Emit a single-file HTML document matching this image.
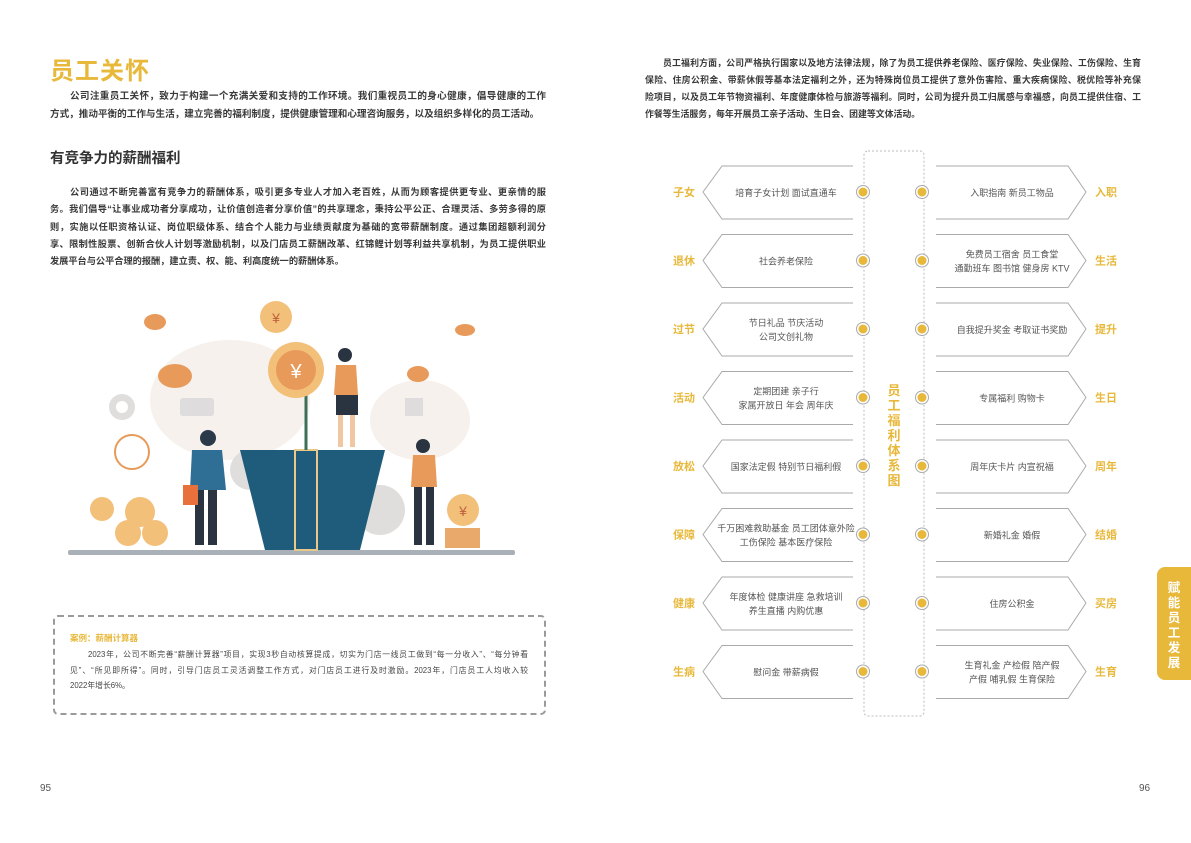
<!DOCTYPE html>
<html><head><meta charset="utf-8"><style>
*{margin:0;padding:0;box-sizing:border-box}
body{width:1191px;height:843px;background:#fff;position:relative;overflow:hidden;font-family:"Liberation Sans","Noto Sans CJK SC",sans-serif;color:#333}
.a{position:absolute}
.p div{white-space:nowrap;text-align:justify;text-align-last:justify}
.p div.last{text-align-last:left}
.p{font-weight:bold;color:#3a3a3a}
</style></head><body>
<div class="a" style="left:50px;top:51px;font-size:24px;font-weight:bold;color:#e8b83a;letter-spacing:1px">员工关怀</div>
<div class="a p" style="left:50px;top:88px;width:496px;line-height:18px;font-size:9.6px">
<div style="padding-left:20px">公司注重员工关怀，致力于构建一个充满关爱和支持的工作环境。我们重视员工的身心健康，倡导健康的工作</div>
<div class="last">方式，推动平衡的工作与生活，建立完善的福利制度，提供健康管理和心理咨询服务，以及组织多样化的员工活动。</div>
</div>
<div class="a" style="left:50px;top:147px;font-size:14.5px;font-weight:bold;color:#333">有竞争力的薪酬福利</div>
<div class="a p" style="left:50px;top:184px;width:496px;line-height:17.3px;font-size:9.2px">
<div style="padding-left:20px">公司通过不断完善富有竞争力的薪酬体系，吸引更多专业人才加入老百姓，从而为顾客提供更专业、更亲情的服</div>
<div>务。我们倡导“让事业成功者分享成功，让价值创造者分享价值”的共享理念，秉持公平公正、合理灵活、多劳多得的原</div>
<div>则，实施以任职资格认证、岗位职级体系、结合个人能力与业绩贡献度为基础的宽带薪酬制度。通过集团超额利润分</div>
<div>享、限制性股票、创新合伙人计划等激励机制，以及门店员工薪酬改革、红锦鲤计划等利益共享机制，为员工提供职业</div>
<div class="last">发展平台与公平合理的报酬，建立责、权、能、利高度统一的薪酬体系。</div>
</div>

<svg class="a" style="left:60px;top:290px" width="470" height="275" viewBox="60 290 470 275">
<ellipse cx="230" cy="400" rx="80" ry="60" fill="#f6f1ec"/>
<ellipse cx="420" cy="420" rx="50" ry="40" fill="#f6f1ec"/>
<rect x="68" y="550" width="447" height="5" rx="2" fill="#a9b0b8"/>
<g fill="#e0dedc"><circle cx="122" cy="407" r="13"/><circle cx="380" cy="510" r="25"/><circle cx="250" cy="470" r="20"/></g>
<circle cx="122" cy="407" r="6" fill="#fff"/>
<path d="M240 450 L385 450 L360 550 L265 550 Z" fill="#1f5b7a"/>
<rect x="295" y="450" width="22" height="100" fill="none" stroke="#e8c98a" stroke-width="2"/>
<line x1="306" y1="450" x2="306" y2="370" stroke="#3c6e58" stroke-width="3"/>
<circle cx="296" cy="370" r="28" fill="#f3c07a"/><circle cx="296" cy="370" r="20" fill="#e89a5a"/>
<text x="296" y="378" font-size="20" fill="#fff" text-anchor="middle" font-family="Liberation Sans">¥</text>
<circle cx="276" cy="317" r="16" fill="#f3c07a"/><text x="276" y="323" font-size="14" fill="#c0603a" text-anchor="middle">¥</text>
<circle cx="463" cy="510" r="16" fill="#f3c07a"/><text x="463" y="516" font-size="14" fill="#c0603a" text-anchor="middle">¥</text>
<circle cx="102" cy="509" r="12" fill="#f3c07a"/><circle cx="140" cy="512" r="15" fill="#f3c07a"/><circle cx="128" cy="533" r="13" fill="#f3c07a"/><circle cx="155" cy="533" r="13" fill="#f3c07a"/>
<ellipse cx="175" cy="376" rx="17" ry="12" fill="#e89a5a"/><ellipse cx="155" cy="322" rx="11" ry="8" fill="#e89a5a"/><ellipse cx="418" cy="374" rx="11" ry="8" fill="#e89a5a"/><ellipse cx="465" cy="330" rx="10" ry="6" fill="#e89a5a"/>
<rect x="445" y="528" width="35" height="20" fill="#e8a96a"/>
<circle cx="132" cy="452" r="17" fill="#fff" stroke="#e89a5a" stroke-width="2"/>
<rect x="180" y="398" width="34" height="18" rx="3" fill="#dedcdc"/>
<rect x="405" y="398" width="18" height="18" fill="#dedcdc"/>
<circle cx="208" cy="438" r="8" fill="#2a3a4a"/>
<path d="M192 450 L222 450 L226 490 L190 490 Z" fill="#2f6f95"/>
<rect x="195" y="490" width="9" height="55" fill="#2a3440"/><rect x="208" y="490" width="9" height="55" fill="#2a3440"/>
<rect x="183" y="485" width="15" height="20" fill="#e8703a"/>
<circle cx="345" cy="355" r="7" fill="#2a3440"/>
<path d="M336 365 L356 365 L358 395 L334 395 Z" fill="#e89a5a"/>
<rect x="336" y="395" width="22" height="20" fill="#2a3440"/>
<rect x="338" y="415" width="5" height="32" fill="#f0c7a0"/><rect x="350" y="415" width="5" height="32" fill="#f0c7a0"/>
<circle cx="423" cy="446" r="7" fill="#2a3440"/>
<path d="M413 455 L435 455 L437 487 L411 487 Z" fill="#e89a5a"/>
<rect x="414" y="487" width="8" height="58" fill="#2a3440"/><rect x="426" y="487" width="8" height="58" fill="#2a3440"/>
</svg>

<div class="a" style="left:53px;top:615px;width:493px;height:100px;border:2px dashed #9a9a9a;border-radius:5px"></div>
<div class="a" style="left:70px;top:632px;font-size:8.5px;font-weight:bold;color:#e8b83a">案例：薪酬计算器</div>
<div class="a p" style="left:70px;top:647px;width:458px;font-size:7.8px;line-height:15.5px;font-weight:normal;color:#444">
<div style="padding-left:18px">2023年，公司不断完善“薪酬计算器”项目，实现3秒自动核算提成，切实为门店一线员工做到“每一分收入”、“每分钟看</div>
<div>见”、“所见即所得”。同时，引导门店员工灵活调整工作方式，对门店员工进行及时激励。2023年，门店员工人均收入较</div>
<div class="last">2022年增长6%。</div>
</div>
<div class="a" style="left:40px;top:783px;font-size:10px;color:#555">95</div>
<div class="a" style="left:1139px;top:783px;font-size:10px;color:#555">96</div>

<div class="a p" style="left:645px;top:55px;width:496px;font-size:8.9px;line-height:17px">
<div style="padding-left:18px">员工福利方面，公司严格执行国家以及地方法律法规，除了为员工提供养老保险、医疗保险、失业保险、工伤保险、生育</div>
<div>保险、住房公积金、带薪休假等基本法定福利之外，还为特殊岗位员工提供了意外伤害险、重大疾病保险、税优险等补充保</div>
<div>险项目，以及员工年节物资福利、年度健康体检与旅游等福利。同时，公司为提升员工归属感与幸福感，向员工提供住宿、工</div>
<div class="last">作餐等生活服务，每年开展员工亲子活动、生日会、团建等文体活动。</div>
</div>

<svg class="a" style="left:0;top:0" width="1191" height="843">
<rect x="864" y="151" width="60" height="565" rx="4" fill="none" stroke="#bbb" stroke-dasharray="2,2"/>
<g id="rows" font-family="Liberation Sans,Noto Sans CJK SC,sans-serif"></g>
<g font-size="13" font-weight="bold" fill="#e8b83a" text-anchor="middle" font-family="Liberation Sans,Noto Sans CJK SC,sans-serif">
<text x="894" y="395">员</text><text x="894" y="410">工</text><text x="894" y="425">福</text><text x="894" y="440">利</text><text x="894" y="455">体</text><text x="894" y="470">系</text><text x="894" y="485">图</text>
</g>
</svg>
<div class="a" style="left:1157px;top:567px;width:34px;height:113px;background:#e8b83a;border-radius:8px 0 0 8px;color:#fff;font-size:12.5px;font-weight:bold;line-height:15px;text-align:center;padding-top:14px">赋<br>能<br>员<br>工<br>发<br>展</div>
<script>
var L=[["子女",["培育子女计划 面试直通车"]],["退休",["社会养老保险"]],["过节",["节日礼品 节庆活动","公司文创礼物"]],["活动",["定期团建 亲子行","家属开放日 年会 周年庆"]],["放松",["国家法定假 特别节日福利假"]],["保障",["千万困难救助基金 员工团体意外险","工伤保险 基本医疗保险"]],["健康",["年度体检 健康讲座 急救培训","养生直播 内购优惠"]],["生病",["慰问金 带薪病假"]]];
var R=[["入职",["入职指南 新员工物品"]],["生活",["免费员工宿舍 员工食堂","通勤班车 图书馆 健身房 KTV"]],["提升",["自我提升奖金 考取证书奖励"]],["生日",["专属福利 购物卡"]],["周年",["周年庆卡片 内宣祝福"]],["结婚",["新婚礼金 婚假"]],["买房",["住房公积金"]],["生育",["生育礼金 产检假 陪产假","产假 哺乳假 生育保险"]]];
var s="";
function txt(lines,cx,cy){var o="";var n=lines.length;lines.forEach(function(t,i){o+='<text x="'+cx+'" y="'+(cy+4+(i-(n-1)/2)*14)+'" font-size="9" fill="#555" text-anchor="middle">'+t+'</text>';});return o;}
for(var i=0;i<8;i++){var y=192+i*68.5;
s+='<path d="M853 '+(y-26)+' L722 '+(y-26)+' L703 '+y+' L722 '+(y+27)+' L853 '+(y+27)+'" fill="none" stroke="#aaa" stroke-width="1"/>';
s+='<path d="M936 '+(y-26)+' L1068 '+(y-26)+' L1086 '+y+' L1068 '+(y+27)+' L936 '+(y+27)+'" fill="none" stroke="#aaa" stroke-width="1"/>';
s+='<circle cx="863" cy="'+y+'" r="6.5" fill="#fff" stroke="#aaa"/><circle cx="863" cy="'+y+'" r="4.5" fill="#e8b83a"/>';
s+='<circle cx="922" cy="'+y+'" r="6.5" fill="#fff" stroke="#aaa"/><circle cx="922" cy="'+y+'" r="4.5" fill="#e8b83a"/>';
s+=txt(L[i][1],786,y)+txt(R[i][1],1012,y);
s+='<text x="684" y="'+(y+4)+'" font-size="11" font-weight="bold" fill="#e8b83a" text-anchor="middle">'+L[i][0]+'</text>';
s+='<text x="1106" y="'+(y+4)+'" font-size="11" font-weight="bold" fill="#e8b83a" text-anchor="middle">'+R[i][0]+'</text>';}
document.getElementById("rows").innerHTML=s;
</script>
</body></html>
